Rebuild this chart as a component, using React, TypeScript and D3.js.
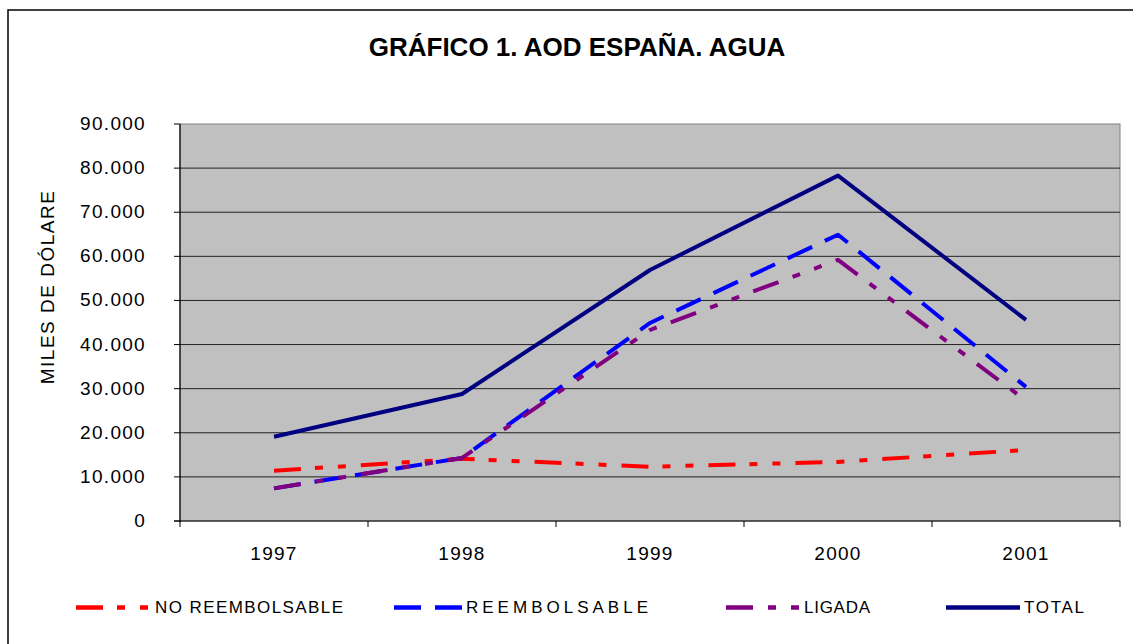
import * as d3 from "d3";

const years = ["1997", "1998", "1999", "2000", "2001"];
const noReembolsable = [11400, 14100, 12300, 13400, 16100];
const reembolsable = [7400, 14300, 44900, 64900, 30400];
const ligada = [7400, 14300, 43300, 59200, 27300];
const total = [19100, 28800, 56900, 78300, 45600];
const yTicks = [0, 10000, 20000, 30000, 40000, 50000, 60000, 70000, 80000, 90000];

const series = [
  { name: "NO REEMBOLSABLE", values: noReembolsable, color: "#FF0000", dash: "27,14,8,15,8,15", lx: 76, lw: 75, tw: 188 },
  { name: "REEMBOLSABLE", values: reembolsable, color: "#0000FF", dash: "27,14", lx: 394, lw: 68, tw: 182 },
  { name: "LIGADA", values: ligada, color: "#800080", dash: "27,15,8,15,8,15", lx: 726, lw: 74, tw: 66 },
  { name: "TOTAL", values: total, color: "#000080", dash: "none", lx: 946, lw: 74, tw: 60 },
];

const W = 1133;
const H = 644;
const plot = { left: 180, right: 1120, top: 124, bottom: 521 };
const font = "Arial, 'Liberation Sans', sans-serif";

// formato con punto de miles
const fmt = (v: number) => (v === 0 ? "0" : d3.format(",")(v).replace(/,/g, "."));

export default function App() {
  const x = d3.scaleBand<string>().domain(years).range([plot.left, plot.right]);
  const y = d3.scaleLinear().domain([0, 90000]).range([plot.bottom, plot.top]);
  const cx = (d: string) => (x(d) ?? 0) + x.bandwidth() / 2;

  const line = d3
    .line<number>()
    .x((_, i) => cx(years[i]))
    .y((v) => y(v));

  const bounds = years.map((d) => x(d) ?? 0).concat([plot.right]);

  return (
    <svg
      width={W}
      height={H}
      style={{ position: "absolute", left: 0, top: 0, background: "#fff" }}
      fontFamily={font}
    >
      <rect x={8} y={10} width={W + 20} height={H + 20} fill="#fff" stroke="#000" strokeWidth={1.5} />

      <text x={577} y={56} textAnchor="middle" fontSize={26} fontWeight="bold" fill="#000">
        GRÁFICO 1. AOD ESPAÑA. AGUA
      </text>

      {/* plot area */}
      <rect
        x={plot.left}
        y={plot.top}
        width={plot.right - plot.left}
        height={plot.bottom - plot.top}
        fill="#C0C0C0"
        stroke="#808080"
        strokeWidth={1}
      />

      {/* grid lines + y ticks */}
      {yTicks.map((t) => (
        <g key={t}>
          {t > 0 && t < 90000 && (
            <line x1={plot.left} x2={plot.right} y1={y(t)} y2={y(t)} stroke="#222" strokeWidth={1} />
          )}
          <line x1={plot.left - 6} x2={plot.left} y1={y(t)} y2={y(t)} stroke="#000" strokeWidth={1} />
          <text
            x={146}
            y={y(t) + 6}
            textAnchor="end"
            fontSize={19}
            letterSpacing={1.3}
            fill="#000"
          >
            {fmt(t)}
          </text>
        </g>
      ))}

      {/* axes */}
      <line x1={plot.left} x2={plot.left} y1={plot.top} y2={plot.bottom + 1} stroke="#000" strokeWidth={1.2} />
      <line x1={plot.left - 6} x2={plot.right} y1={plot.bottom} y2={plot.bottom} stroke="#000" strokeWidth={1.2} />
      {bounds.map((b, i) => (
        <line key={i} x1={b} x2={b} y1={plot.bottom} y2={plot.bottom + 6} stroke="#000" strokeWidth={1} />
      ))}
      {years.map((d) => (
        <text key={d} x={cx(d)} y={560} textAnchor="middle" fontSize={19} letterSpacing={1.3} fill="#000">
          {d}
        </text>
      ))}

      <text
        transform={`translate(54,287) rotate(-90)`}
        textAnchor="middle"
        fontSize={19}
        letterSpacing={1.5}
        fill="#000"
      >
        MILES DE DÓLARE
      </text>

      {/* lines */}
      {series.map((s) => (
        <path
          key={s.name}
          d={line(s.values) ?? ""}
          fill="none"
          stroke={s.color}
          strokeWidth={4}
          strokeDasharray={s.dash}
          strokeLinejoin="round"
        />
      ))}

      {/* legend */}
      {series.map((s) => (
        <g key={s.name}>
          <line
            x1={s.lx}
            x2={s.lx + s.lw}
            y1={607.5}
            y2={607.5}
            stroke={s.color}
            strokeWidth={4.5}
            strokeDasharray={s.dash}
          />
          <text
            x={s.lx + s.lw + 4}
            y={613}
            fontSize={17}
            textLength={s.tw}
            lengthAdjust="spacing"
            fill="#000"
          >
            {s.name}
          </text>
        </g>
      ))}
    </svg>
  );
}
